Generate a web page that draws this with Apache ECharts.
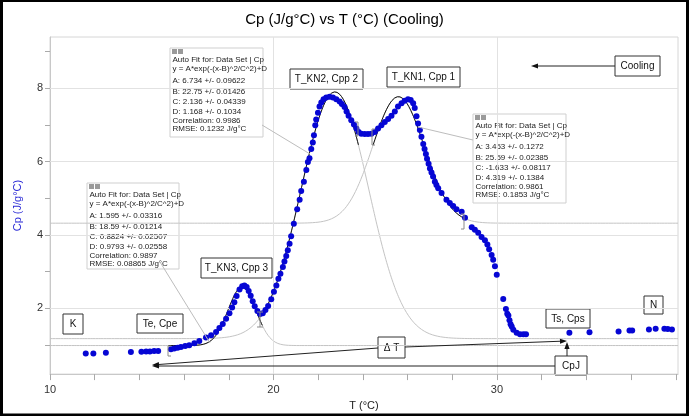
<!DOCTYPE html>
<html>
<head>
<meta charset="utf-8">
<script src="https://cdn.jsdelivr.net/npm/echarts@6/dist/echarts.min.js"></script>
<style>
  html, body { margin: 0; padding: 0; background: #fff; }
  #chart { width: 689px; height: 416px; }
</style>
</head>
<body>
<div id="chart"></div>
<script>
// Measured heat capacity during cooling: temperature (°C) and Cp (J/g°C)
const tempC = [
  11.60, 11.94, 12.50, 13.62, 14.09, 14.30, 14.47, 14.66, 14.84,
  15.41, 15.56, 15.71, 15.86, 16.05, 16.23, 16.46, 16.68, 16.98, 17.21,
  17.43, 17.58, 17.73, 17.88, 18.03, 18.15, 18.25, 18.35, 18.48, 18.60,
  18.70, 18.80, 18.89, 18.98, 19.07, 19.16, 19.28, 19.40, 19.52, 19.64,
  19.76, 19.90, 20.02, 20.13, 20.22, 20.31, 20.42, 20.49, 20.57, 20.64,
  20.72, 20.79, 20.91, 21.06, 21.17, 21.24, 21.36, 21.47, 21.54, 21.61,
  21.69, 21.76, 21.81, 21.87, 21.91, 21.99, 22.06, 22.14, 22.24, 22.36,
  22.51, 22.66, 22.81, 22.96, 23.06, 23.18, 23.27, 23.36, 23.48, 23.60,
  23.71, 23.81, 23.93, 24.08, 24.23, 24.38, 24.53, 24.68, 24.83, 24.98,
  25.13, 25.28, 25.43, 25.57, 25.73, 25.87, 26.02, 26.14, 26.25, 26.32,
  26.40, 26.47, 26.55, 26.62, 26.70, 26.76, 26.82, 26.87, 26.94, 27.00,
  27.07, 27.14, 27.22, 27.29, 27.37, 27.52, 27.74, 27.89, 28.04, 28.19,
  28.42, 28.57, 28.87, 29.01, 29.16, 29.31, 29.46, 29.57, 29.65, 29.76,
  29.83, 29.91, 29.99, 30.28, 30.40, 30.46, 30.51, 30.56, 30.61, 30.66,
  30.73, 30.88, 31.03, 31.18, 31.30, 33.24, 34.14, 35.44, 35.93, 36.05,
  36.80, 37.10, 37.49, 37.64, 37.83
];
const cp = [
  0.76, 0.76, 0.78, 0.80, 0.81, 0.82, 0.82, 0.83, 0.83,
  0.88, 0.90, 0.92, 0.94, 0.97, 0.99, 1.04, 1.10, 1.20, 1.26,
  1.35, 1.46, 1.57, 1.71, 1.86, 2.02, 2.16, 2.33, 2.51, 2.60,
  2.62, 2.58, 2.47, 2.34, 2.19, 2.05, 1.92, 1.84, 1.86, 1.95,
  2.06, 2.24, 2.45, 2.62, 2.80, 2.94, 3.12, 3.27, 3.42, 3.58,
  3.76, 3.96, 4.30, 4.70, 4.96, 5.20, 5.45, 5.77, 5.99, 6.09,
  6.34, 6.52, 6.72, 6.99, 7.15, 7.33, 7.50, 7.61, 7.70, 7.75,
  7.77, 7.75, 7.70, 7.64, 7.57, 7.49, 7.37, 7.25, 7.13, 7.01,
  6.90, 6.81, 6.76, 6.75, 6.75, 6.76, 6.81, 6.90, 6.99, 7.08,
  7.16, 7.25, 7.37, 7.50, 7.59, 7.66, 7.70, 7.68, 7.59, 7.46,
  7.24, 7.04, 6.86, 6.68, 6.48, 6.34, 6.21, 6.08, 5.94, 5.81,
  5.70, 5.59, 5.45, 5.36, 5.27, 5.14, 4.96, 4.87, 4.79, 4.70,
  4.63, 4.47, 4.21, 4.14, 4.06, 3.94, 3.85, 3.74, 3.61, 3.45,
  3.32, 3.14, 2.91, 2.25, 1.98, 1.85, 1.80, 1.67, 1.56, 1.50,
  1.41, 1.33, 1.29, 1.29, 1.29, 1.33, 1.34, 1.36, 1.39, 1.39,
  1.42, 1.44, 1.44, 1.43, 1.42
];

// Axis ticks and labels
const xTicks = [10, 12, 14, 16, 18, 20, 22, 24, 26, 28, 30, 32, 34, 36, 38];
const xLabels = [10, 20, 30];
const yTicks = [1, 2, 3, 4, 5, 6, 7, 8, 9];
const yLabels = [2, 4, 6, 8];
const xGrid = [20, 30];
const yGrid = [2, 4, 6, 8];

// Gaussian auto fits  y = A*exp(-(x-B)^2/C^2)+D  (peak 3, peak 2, peak 1)
const fitA = [1.595, 6.734, 3.453];
const fitAErr = [0.03316, 0.09622, 0.1272];
const fitB = [18.59, 22.75, 25.59];
const fitBErr = [0.01214, 0.01426, 0.02385];
const fitC = [0.8824, 2.136, -1.633];
const fitCErr = [0.02507, 0.04339, 0.08117];
const fitD = [0.9793, 1.168, 4.319];
const fitDErr = [0.02558, 0.1034, 0.1384];
const fitCorr = [0.9897, 0.9986, 0.9861];
const fitRmse = [0.08865, 0.1232, 0.1853];
const fitFrom = [15.3, 19.5, 24.46];
const fitTo = [19.5, 23.8, 28.5];

const X_MIN = 10, X_MAX = 38.1, Y_MIN = 0.2, Y_MAX = 9.4;
const FONT = '"Liberation Sans", Arial, Helvetica, sans-serif';

function gauss(i, x) {
  const d = (x - fitB[i]) / fitC[i];
  return fitA[i] * Math.exp(-d * d) + fitD[i];
}
function fitCurve(i, from, to) {
  const pts = [];
  const n = Math.round((to - from) / 0.04);
  for (let k = 0; k <= n; k++) {
    const x = from + (to - from) * k / n;
    pts.push([x, gauss(i, x)]);
  }
  return pts;
}

const points = tempC.map((t, i) => [t, cp[i]]);

const series = [];
// grid lines
series.push({
  type: 'line', data: [], silent: true, z: 0,
  markLine: {
    silent: true, symbol: 'none', animation: false,
    label: { show: false },
    lineStyle: { color: '#e2e2e2', type: 'solid', width: 1 },
    data: xGrid.map(v => ({ xAxis: v })).concat(yGrid.map(v => ({ yAxis: v })))
  }
});
// full-range fit curves (light)
for (let i = 0; i < 3; i++) {
  series.push({
    type: 'line', data: fitCurve(i, X_MIN, X_MAX), showSymbol: false, silent: true,
    z: 1, lineStyle: { color: '#c4c4c4', width: 1 }, animation: false
  });
}
// fit curves over the fitted ranges
for (let i = 0; i < 3; i++) {
  series.push({
    type: 'line', data: fitCurve(i, fitFrom[i], fitTo[i]), showSymbol: false, silent: true,
    z: 2, lineStyle: { color: '#111', width: 1 }, animation: false
  });
}
// measured points
series.push({
  type: 'scatter', data: points, symbolSize: 6, z: 5, animation: false,
  itemStyle: { color: '#0606d4', opacity: 1, borderWidth: 0 }
});

// ---- annotation graphics (pixel layout) ----
const graphics = [];

function boxLabel(x, y, w, h, text) {
  graphics.push({
    type: 'group', x: x, y: y, z: 20,
    children: [
      { type: 'rect', shape: { x: 0, y: 0, width: w, height: h },
        style: { fill: '#fff', stroke: '#333', lineWidth: 1 } },
      { type: 'text', style: { text: text, x: w / 2, y: h / 2 + 0.5, align: 'center',
        verticalAlign: 'middle', font: '10px ' + FONT, fill: '#111' } }
    ]
  });
}

function arrow(x0, y0, x1, y1) {
  const dx = x1 - x0, dy = y1 - y0;
  const len = Math.sqrt(dx * dx + dy * dy);
  const ux = dx / len, uy = dy / len;
  const hl = 7, hw = 2.6;
  const bx = x1 - ux * hl, by = y1 - uy * hl;
  graphics.push({ type: 'line', z: 18, shape: { x1: x0, y1: y0, x2: bx, y2: by },
    style: { stroke: '#222', lineWidth: 1 } });
  graphics.push({ type: 'polygon', z: 18,
    shape: { points: [[x1, y1], [bx - uy * hw, by + ux * hw], [bx + uy * hw, by - ux * hw]] },
    style: { fill: '#111' } });
}

function connector(x0, y0, x1, y1) {
  graphics.push({ type: 'line', z: 15, shape: { x1: x0, y1: y0, x2: x1, y2: y1 },
    style: { stroke: '#bdbdbd', lineWidth: 1 } });
}

function bracket(x, yTop, yBot, side) {
  // side: -1 opens right "[", 1 opens left "]", 0 both
  const s = 3;
  const items = [];
  items.push({ type: 'line', shape: { x1: x, y1: yTop, x2: x, y2: yBot } });
  if (side <= 0) {
    items.push({ type: 'line', shape: { x1: x, y1: yTop, x2: x + s, y2: yTop } });
    items.push({ type: 'line', shape: { x1: x, y1: yBot, x2: x + s, y2: yBot } });
  }
  if (side >= 0) {
    items.push({ type: 'line', shape: { x1: x, y1: yTop, x2: x - s, y2: yTop } });
    items.push({ type: 'line', shape: { x1: x, y1: yBot, x2: x - s, y2: yBot } });
  }
  items.forEach(it => { it.z = 16; it.style = { stroke: '#8a8a8a', lineWidth: 1 }; graphics.push(it); });
}

function fitBox(i, x, y, w, h) {
  const lines = [
    'Auto Fit for: Data Set | Cp',
    'y = A*exp(-(x-B)^2/C^2)+D',
    'A: ' + fitA[i] + ' +/- ' + fitAErr[i],
    'B: ' + fitB[i] + ' +/- ' + fitBErr[i],
    'C: ' + fitC[i] + ' +/- ' + fitCErr[i],
    'D: ' + fitD[i] + ' +/- ' + fitDErr[i],
    'Correlation: ' + fitCorr[i],
    'RMSE: ' + fitRmse[i] + ' J/g°C'
  ];
  const offs = [12, 21, 33, 44, 54, 64, 73, 81];
  const children = [
    { type: 'rect', shape: { x: 0, y: 0, width: w, height: h },
      style: { fill: '#fff', stroke: '#cfcfcf', lineWidth: 1 } },
    { type: 'rect', shape: { x: 2, y: 1, width: 5, height: 5 }, style: { fill: '#9a9a9a' } },
    { type: 'rect', shape: { x: 8, y: 1, width: 5, height: 5 }, style: { fill: '#9a9a9a' } }
  ];
  lines.forEach((t, k) => {
    children.push({ type: 'text', style: { text: t, x: 2.5, y: offs[k], verticalAlign: 'middle',
      font: '8px ' + FONT, fill: '#222' } });
  });
  graphics.push({ type: 'group', x: x, y: y, z: 20, children: children });
}

// connectors from fit boxes to their curves
connector(262, 125, 310, 154);
connector(473, 140, 418, 127);
connector(160, 262, 210, 343);

// fit-range brackets
bracket(168, 346, 356, -1);
bracket(260, 312, 327, 0);
bracket(358, 122, 136, 1);
bracket(372, 129, 145, -1);
bracket(464, 214, 229, 1);

fitBox(1, 170, 48, 93, 89);
fitBox(2, 473, 114, 93, 89);
fitBox(0, 87, 183, 92, 86);

// arrows
arrow(615, 66, 531, 66);
arrow(378, 348, 152, 365);
arrow(405, 347, 567, 341);
arrow(555, 366, 152, 366);
arrow(567, 356, 567, 342);

// labelled boxes
boxLabel(63, 314, 20, 20, 'K');
boxLabel(137, 314, 46, 19, 'Te, Cpe');
boxLabel(201, 258, 71, 20, 'T_KN3, Cpp 3');
boxLabel(290, 69, 73, 20, 'T_KN2, Cpp 2');
boxLabel(387, 67, 73, 20, 'T_KN1, Cpp 1');
boxLabel(546, 309, 44, 19, 'Ts, Cps');
boxLabel(644, 296, 19, 18, 'N');
boxLabel(615, 56, 45, 20, 'Cooling');
boxLabel(378, 337, 27, 21, 'Δ T');
boxLabel(555, 356, 32, 19, 'CpJ');

// outer frame
graphics.push({ type: 'rect', z: 30, silent: true,
  shape: { x: 1.5, y: 0.5, width: 686, height: 414.5 },
  style: { fill: 'none', stroke: '#000', lineWidth: 3 } });

const chart = echarts.init(document.getElementById('chart'), null, { renderer: 'canvas' });
chart.setOption({
  animation: false,
  backgroundColor: '#fff',
  textStyle: { fontFamily: FONT },
  title: {
    text: 'Cp (J/g°C) vs T (°C) (Cooling)', left: 'center', top: 7,
    textStyle: { fontSize: 15, fontWeight: 'normal', color: '#000', fontFamily: FONT }
  },
  grid: {
    left: 50, right: 11, top: 37, bottom: 35, show: true,
    borderColor: '#d6d6d6', borderWidth: 1, containLabel: false
  },
  xAxis: {
    type: 'value', min: X_MIN, max: X_MAX,
    name: 'T (°C)', nameLocation: 'middle', nameGap: 19,
    nameTextStyle: { fontSize: 11, color: '#222', fontFamily: FONT },
    axisLine: { show: true, lineStyle: { color: '#c8c8c8' } },
    axisTick: { show: true, customValues: xTicks, length: 6, lineStyle: { color: '#aaa' } },
    axisLabel: { customValues: xLabels, color: '#333', fontSize: 11, margin: 10, fontFamily: FONT },
    splitLine: { show: false }
  },
  yAxis: {
    type: 'value', min: Y_MIN, max: Y_MAX,
    name: 'Cp (J/g°C)', nameLocation: 'middle', nameGap: 27,
    nameTextStyle: { fontSize: 11, color: '#2a2ad6', fontFamily: FONT },
    axisLine: { show: true, lineStyle: { color: '#c8c8c8' } },
    axisTick: { show: true, customValues: yTicks, length: 5, lineStyle: { color: '#aaa' } },
    axisLabel: { customValues: yLabels, color: '#333', fontSize: 11, margin: 7, fontFamily: FONT },
    splitLine: { show: false }
  },
  series: series,
  graphic: graphics
});
</script>
</body>
</html>
